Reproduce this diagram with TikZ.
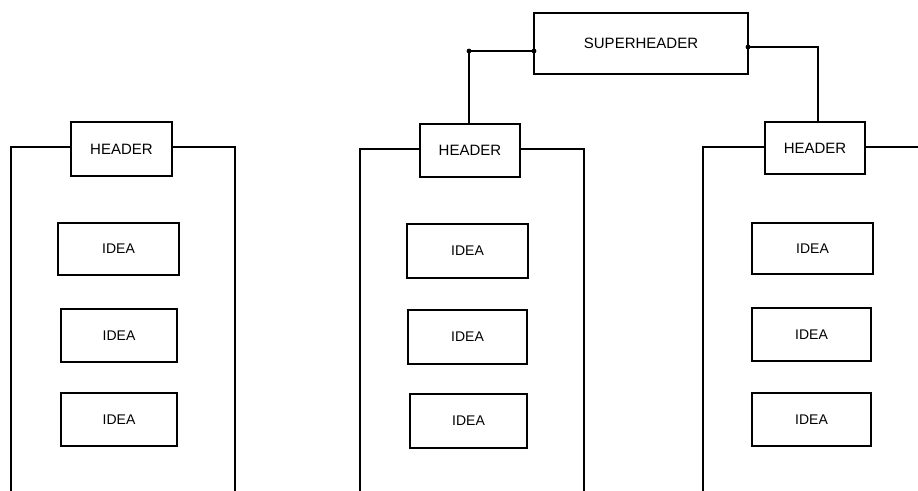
\documentclass[tikz,border=0pt]{standalone}
\usepackage{fontspec}
\setmainfont{Liberation Sans}
\begin{document}
\begin{tikzpicture}[x=1pt,y=-1pt,
  box/.style={draw=black, line width=2.8pt, rectangle, inner sep=0pt, outer sep=0pt, font=\fontsize{15}{17}\selectfont},
  ideabox/.style={box, font=\fontsize{14}{16}\selectfont},
  wire/.style={draw=black, line width=2.8pt, line join=miter},
  dotmark/.style={fill=black}]
\useasboundingbox (0,0) rectangle (918,490);
% super header
\node[box, minimum width=214pt, minimum height=61pt] (sup) at (641,43.5) {SUPERHEADER};
% headers
\node[box, minimum width=101pt, minimum height=54pt] (h1) at (121.5,149) {HEADER};
\node[box, minimum width=100pt, minimum height=53pt] (h2) at (470,150.5) {HEADER};
\node[box, minimum width=100pt, minimum height=52pt] (h3) at (815,148) {HEADER};
% ideas
\node[ideabox, minimum width=121pt, minimum height=52pt] (i11) at (118.5,249) {IDEA};
\node[ideabox, minimum width=116pt, minimum height=53pt] (i12) at (119,335.5) {IDEA};
\node[ideabox, minimum width=116pt, minimum height=53pt] (i13) at (119,419.5) {IDEA};
\node[ideabox, minimum width=121pt, minimum height=54pt] (i21) at (467.5,251) {IDEA};
\node[ideabox, minimum width=119pt, minimum height=54pt] (i22) at (467.5,337) {IDEA};
\node[ideabox, minimum width=117pt, minimum height=54pt] (i23) at (468.5,421) {IDEA};
\node[ideabox, minimum width=121pt, minimum height=51pt] (i31) at (812.5,248.5) {IDEA};
\node[ideabox, minimum width=119pt, minimum height=53pt] (i32) at (811.5,334.5) {IDEA};
\node[ideabox, minimum width=119pt, minimum height=53pt] (i33) at (811.5,419.5) {IDEA};
% bracket corners
\coordinate (b1l) at (11,147);
\coordinate (b1r) at (235,147);
\coordinate (b2l) at (360,149);
\coordinate (b2r) at (584,149);
\coordinate (b3l) at (703,147);
\coordinate (b3r) at (920,147);
\coordinate (bottom) at (0,492);
% brackets
\draw[wire] (h1.west |- b1l) -- (b1l) -- (b1l |- bottom);
\draw[wire] (h1.east |- b1r) -- (b1r) -- (b1r |- bottom);
\draw[wire] (h2.west |- b2l) -- (b2l) -- (b2l |- bottom);
\draw[wire] (h2.east |- b2r) -- (b2r) -- (b2r |- bottom);
\draw[wire] (h3.west |- b3l) -- (b3l) -- (b3l |- bottom);
\draw[wire] (h3.east |- b3r) -- (b3r);
% superheader connectors
\coordinate (c1) at (469,51);
\coordinate (c2) at (818,47);
\draw[wire] (sup.west |- c1) -- (c1) -- (c1 |- h2.north);
\draw[wire] (sup.east |- c2) -- (c2) -- (c2 |- h3.north);
\fill[dotmark] (c1) circle (2.4pt);
\fill[dotmark] (sup.west |- c1) circle (2.4pt);
\fill[dotmark] (sup.east |- c2) circle (2.4pt);
\end{tikzpicture}
\end{document}
